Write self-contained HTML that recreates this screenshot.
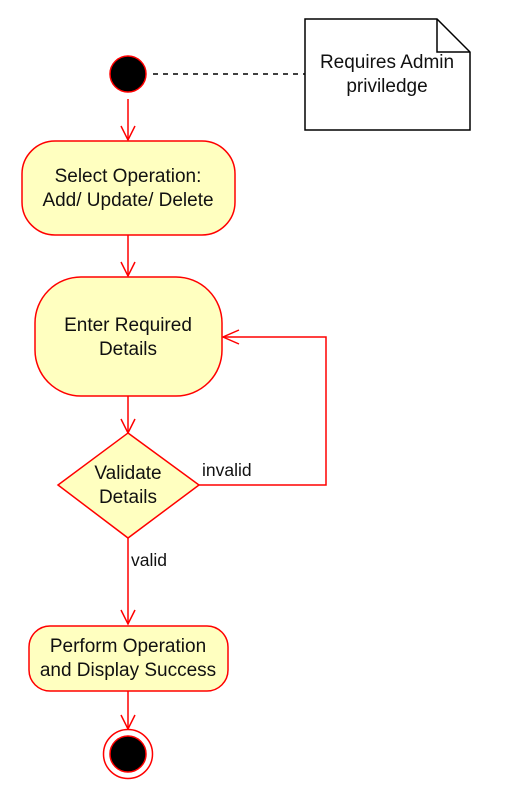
<!DOCTYPE html>
<html><head><meta charset="utf-8"><style>html,body{margin:0;padding:0;background:#fff}</style></head>
<body>
<svg width="519" height="792" viewBox="0 0 519 792" xmlns="http://www.w3.org/2000/svg" font-family="Liberation Sans, sans-serif" font-size="19" fill="#111">
<g stroke="#f00" stroke-width="1.5" fill="none">
<line x1="128" y1="99" x2="128" y2="140"/><polyline points="121,126 128,140 135,126"/>
<line x1="128" y1="235" x2="128" y2="276"/><polyline points="121,262 128,276 135,262"/>
<line x1="128" y1="396" x2="128" y2="433"/><polyline points="121,419 128,433 135,419"/>
<line x1="128" y1="538" x2="128" y2="624"/><polyline points="121,610 128,624 135,610"/>
<line x1="128" y1="691" x2="128" y2="729"/><polyline points="121,715 128,729 135,715"/>
<polyline points="199,485 326,485 326,337 223,337"/><polyline points="239,330 223,337 239,344"/>
</g>
<circle cx="128" cy="74" r="18" fill="#000" stroke="#f00" stroke-width="1.5"/>
<line x1="153" y1="74" x2="305" y2="74" stroke="#000" stroke-width="1.5" stroke-dasharray="5,5"/>
<path d="M305,19 H437 L470,52 V130 H305 Z" fill="#fff" stroke="#000" stroke-width="1.5"/>
<path d="M437,19 V52 H470" fill="none" stroke="#000" stroke-width="1.5"/>
<text x="387" y="68" text-anchor="middle">Requires Admin</text>
<text x="387" y="92" text-anchor="middle">priviledge</text>
<rect x="22" y="141" width="213" height="94" rx="33" fill="#ffffc0" stroke="#f00" stroke-width="1.5"/>
<text x="128" y="182" text-anchor="middle">Select Operation:</text>
<text x="128" y="206" text-anchor="middle">Add/ Update/ Delete</text>
<rect x="35" y="277" width="187" height="119" rx="46" fill="#ffffc0" stroke="#f00" stroke-width="1.5"/>
<text x="128" y="331" text-anchor="middle">Enter Required</text>
<text x="128" y="355" text-anchor="middle">Details</text>
<polygon points="128,433 199,485 128,538 58,485" fill="#ffffc0" stroke="#f00" stroke-width="1.5"/>
<text x="128" y="479" text-anchor="middle">Validate</text>
<text x="128" y="503" text-anchor="middle">Details</text>
<text x="202" y="476" font-size="17.5">invalid</text>
<text x="131" y="566" font-size="17.5">valid</text>
<rect x="29" y="626" width="199" height="65" rx="21" fill="#ffffc0" stroke="#f00" stroke-width="1.5"/>
<text x="128" y="652" text-anchor="middle">Perform Operation</text>
<text x="128" y="676" text-anchor="middle">and Display Success</text>
<circle cx="128" cy="754" r="24.5" fill="#fff" stroke="#f00" stroke-width="1.5"/>
<circle cx="128" cy="754" r="18" fill="#000" stroke="#f00" stroke-width="1.5"/>
</svg>
</body></html>
